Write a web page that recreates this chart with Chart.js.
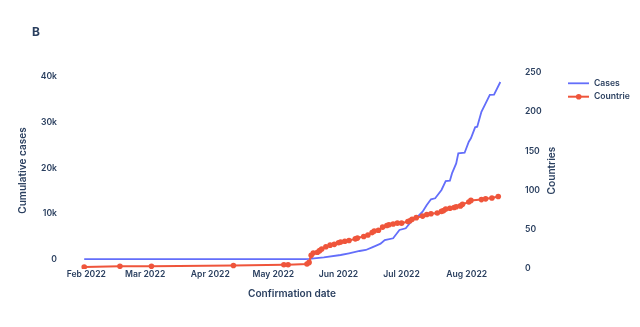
<!DOCTYPE html>
<html><head><meta charset="utf-8">
<script src="https://cdn.jsdelivr.net/npm/chart.js@4"></script>
<style>html,body{margin:0;padding:0;background:#fff;} canvas{display:block;}</style>
</head><body>
<canvas id="c" width="640" height="327"></canvas>
<script>
// ---- data (day 0 = 1 Feb 2022) ----
const caseDays = [-1,104,106,113,121,125,130,133,136,139,140,142,146,149,152,155,158,160,162,164,166,169,171,173,174,176,177,180,182,183,185,186,188,190,192,194,197];
const caseValues = [0,20,60,400,920,1290,1800,2020,2600,3200,3400,4200,4580,6400,6770,8500,9470,10400,11880,13130,13350,15170,17140,17210,18800,21000,23200,23340,25750,26500,28900,29040,32300,34170,36000,36050,38838];
const countryDays = [-1,16,31,70,94,96,105,106,107,108,110,111,112,114,116,118,120,121,123,125,128,129,132,134,136,137,139,141,143,144,146,148,150,153,154,155,157,160,162,164,167,169,170,171,173,175,176,178,179,182,183,188,190,193,196];
const countryValues = [2,3,3,4,5,5,6,8,17,20,21,23,25,28,30,31,33,34,35,36,38,39,41,43,46,48,49,53,55,56,57,58,58,60,61,63,65,67,69,70,71,73,74,76,77,78,79,80,82,85,87,88,89,90,92];
const monthTickDays = [0,28,59,89,120,150,181];
const monthTickLabels = ['Feb 2022','Mar 2022','Apr 2022','May 2022','Jun 2022','Jul 2022','Aug 2022'];
const caseTickValues = [0,10000,20000,30000,40000];
const countryTickValues = [0,50,100,150,200,250];
const seriesLabels = ['Cases','Countrie'];
const panelLabel = 'B';
const xTitle = 'Confirmation date';
const yTitle = 'Cumulative cases';
const y1Title = 'Countries';

const INK = '#2a3f5f';
const BLUE = '#636efa';
const RED = '#ef553b';
const FAMILY = 'Inter';
const TICK_SIZE = 8.6;
const TITLE_SIZE = 10.1;

const extras = {
  id: 'extras',
  afterDraw(chart) {
    const ctx = chart.ctx;
    const ca = chart.chartArea;
    ctx.save();
    ctx.fillStyle = INK;
    ctx.textBaseline = 'middle';
    ctx.textAlign = 'left';
    ctx.font = '700 12px ' + FAMILY;
    ctx.fillText(panelLabel, 32, 32);
    // right axis title (rotated like the left one)
    ctx.save();
    ctx.font = '600 ' + TITLE_SIZE + 'px ' + FAMILY;
    ctx.translate(chart.scales.y1.right - 18.3, (ca.top + ca.bottom) / 2);
    ctx.rotate(-Math.PI / 2);
    ctx.textAlign = 'center';
    ctx.fillText(y1Title, 0, 0);
    ctx.restore();
    // legend
    ctx.font = '600 ' + TICK_SIZE + 'px ' + FAMILY;
    chart.data.datasets.forEach((ds, i) => {
      const y = 83.3 + i * 13.4;
      ctx.strokeStyle = ds.borderColor;
      ctx.lineWidth = ds.borderWidth;
      ctx.beginPath(); ctx.moveTo(568, y); ctx.lineTo(589, y); ctx.stroke();
      if (ds.pointRadius > 0) {
        ctx.fillStyle = ds.pointBackgroundColor;
        ctx.beginPath(); ctx.arc(578.7, y, ds.pointRadius, 0, Math.PI * 2); ctx.fill();
      }
      ctx.fillStyle = INK;
      ctx.fillText(ds.label, 594, y);
    });
    ctx.restore();
  }
};

new Chart(document.getElementById('c'), {
  type: 'line',
  data: {
    datasets: [
      {
        label: seriesLabels[0],
        data: caseDays.map((d, i) => ({x: d, y: caseValues[i]})),
        yAxisID: 'y',
        borderColor: BLUE, backgroundColor: BLUE,
        borderWidth: 1.8, pointRadius: 0, tension: 0, order: 1
      },
      {
        label: seriesLabels[1],
        data: countryDays.map((d, i) => ({x: d, y: countryValues[i]})),
        yAxisID: 'y1',
        borderColor: RED, backgroundColor: RED,
        pointBackgroundColor: RED, pointBorderColor: RED,
        borderWidth: 2, pointRadius: 2.8, pointBorderWidth: 0, tension: 0, order: 0
      }
    ]
  },
  options: {
    responsive: false,
    animation: false,
    devicePixelRatio: 1,
    layout: { padding: { left: 0, right: 70, top: 72, bottom: 18 } },
    plugins: { legend: { display: false }, title: { display: false }, tooltip: { enabled: false } },
    scales: {
      x: {
        type: 'linear', min: -7.76, max: 203.5,
        grid: { display: false, drawTicks: false }, border: { display: false },
        afterBuildTicks: s => { s.ticks = monthTickDays.map(v => ({value: v})); },
        afterFit: s => { s.height = 40; },
        ticks: {
          autoSkip: false, maxRotation: 0, padding: 0, color: INK,
          font: { family: FAMILY, size: TICK_SIZE, weight: '600' },
          callback: (v, i) => monthTickLabels[i]
        },
        title: { display: true, text: xTitle, color: INK, padding: { top: 0, bottom: 8.9 },
                 font: { family: FAMILY, size: TITLE_SIZE, weight: '600' } }
      },
      y: {
        position: 'left', min: -2148, max: 41030,
        grid: { display: false, drawTicks: false }, border: { display: false },
        afterBuildTicks: s => { s.ticks = caseTickValues.map(v => ({value: v})); },
        afterFit: s => { s.width = 70; },
        ticks: {
          padding: 13, color: INK, font: { family: FAMILY, size: TICK_SIZE, weight: '600' },
          callback: v => v === 0 ? '0' : (v / 1000) + 'k'
        },
        title: { display: true, text: yTitle, color: INK, padding: { top: 16.6, bottom: 0 },
                 font: { family: FAMILY, size: TITLE_SIZE, weight: '600' } }
      },
      y1: {
        position: 'right', min: -0.4, max: 250.6,
        grid: { display: false, drawTicks: false }, border: { display: false },
        afterBuildTicks: s => { s.ticks = countryTickValues.map(v => ({value: v})); },
        afterFit: s => { s.width = 56; },
        ticks: {
          padding: 11, color: INK, font: { family: FAMILY, size: TICK_SIZE, weight: '600' },
          callback: v => String(v)
        },
        title: { display: false }
      }
    }
  },
  plugins: [extras]
});
</script>
</body></html>
